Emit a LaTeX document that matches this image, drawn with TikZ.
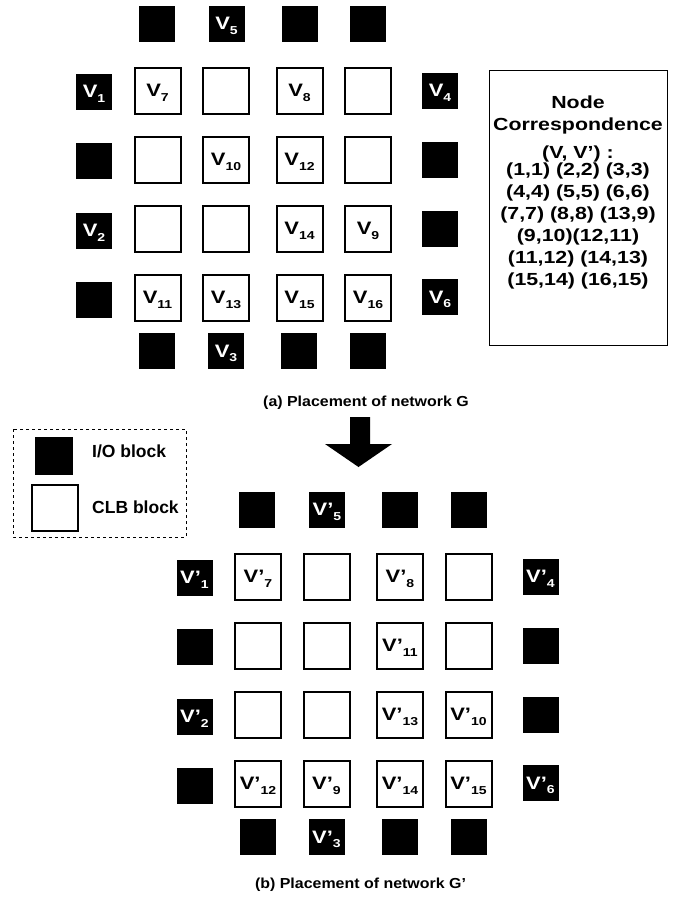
\documentclass[tikz,border=0pt]{standalone}
\usepackage{fontspec}
\setmainfont{Liberation Sans}
% horizontally widened faces used for the block labels, the table and the captions
\newfontfamily\widefont{Liberation Sans}[FakeStretch=1.22]
\newfontfamily\capfont{Liberation Sans}[FakeStretch=1.1]
% V with a lowered index that does not change the box height
\newcommand{\vsub}[2]{#1\raisebox{-4.5pt}[0pt][0pt]{\fontsize{11.5}{11.5}\selectfont #2}}
\begin{document}
\begin{tikzpicture}[x=1pt,y=-1pt,
  io/.style={fill=black,minimum size=36pt,inner sep=0pt,text=white,
    font=\widefont\fontsize{18}{18}\selectfont\bfseries},
  clb/.style={draw=black,line width=2pt,minimum size=46pt,inner sep=0pt,
    font=\widefont\fontsize{18}{18}\selectfont\bfseries},
  captxt/.style={font=\capfont\fontsize{14.5}{14.5}\selectfont\bfseries},
  legtxt/.style={font=\fontsize{17.5}{17.5}\selectfont\bfseries,anchor=west,inner sep=0pt},
  corrtxt/.style={font=\widefont\fontsize{17.5}{17.5}\selectfont\bfseries,inner sep=0pt}]
\useasboundingbox (0,0) rectangle (689,906);

% ---------- (a) placement of network G ----------
\begin{scope}
  \foreach \x/\t [count=\i] in {156.5/{},226.5/{\vsub{V}{5}},299.5/{},368/{}}
    \node[io] (a-top\i) at (\x,23.5) {\t};
  \foreach \x/\t [count=\i] in {157/{},226/{\vsub{V}{3}},299/{},368/{}}
    \node[io] (a-bot\i) at (\x,351) {\t};
  \foreach \y/\t [count=\i] in {91.5/{\vsub{V}{1}},161/{},230.5/{\vsub{V}{2}},299.5/{}}
    \node[io] (a-left\i) at (94,\y) {\t};
  \foreach \y/\t [count=\i] in {90.5/{\vsub{V}{4}},160/{},229/{},297/{\vsub{V}{6}}}
    \node[io] (a-right\i) at (440,\y) {\t};
  \foreach \x/\t [count=\i] in {157.5/{\vsub{V}{7}},226/{},299.5/{\vsub{V}{8}},368/{}}
    \node[clb] (a-r1c\i) at (\x,90.5) {\t};
  \foreach \x/\t [count=\i] in {157.5/{},226/{\vsub{V}{10}},299.5/{\vsub{V}{12}},368/{}}
    \node[clb] (a-r2c\i) at (\x,159.5) {\t};
  \foreach \x/\t [count=\i] in {157.5/{},226/{},299.5/{\vsub{V}{14}},368/{\vsub{V}{9}}}
    \node[clb] (a-r3c\i) at (\x,228.5) {\t};
  \foreach \x/\t [count=\i] in {157.5/{\vsub{V}{11}},226/{\vsub{V}{13}},299.5/{\vsub{V}{15}},368/{\vsub{V}{16}}}
    \node[clb] (a-r4c\i) at (\x,297.5) {\t};
  \node[captxt] (capa) at (366,403) {(a) Placement of network G};
\end{scope}

% ---------- node correspondence table ----------
\draw[line width=1pt] (489,70.7) rectangle (667,345);
\foreach \y/\t [count=\i] in {102/{Node},125.5/{Correspondence},153.8/{(V, V’) :},
    171.3/{(1,1) (2,2) (3,3)},193/{(4,4) (5,5) (6,6)},215/{(7,7) (8,8) (13,9)},
    237/{(9,10)(12,11)},259/{(11,12) (14,13)},281/{(15,14) (16,15)}}
  \node[corrtxt] (corr\i) at (578,\y) {\t};

% ---------- transformation arrow ----------
\fill (350,417) -- (370,417) -- (370,444) -- (392,444) -- (358.5,467)
  -- (325,444) -- (350,444) -- cycle;

% ---------- legend ----------
\draw[dashed,line width=0.8pt] (13,429) rectangle (186,537);
\node[io,minimum size=38pt] (leg-io) at (54,456) {};
\node[clb] (leg-clb) at (54.5,507.5) {};
\node[legtxt] (leg-iotxt) at (92,451) {I/O block};
\node[legtxt] (leg-clbtxt) at (92,507) {CLB block};

% ---------- (b) placement of network G' ----------
\begin{scope}[shift={(100.5,486)}]
  \foreach \x/\t [count=\i] in {156.5/{},226.5/{\vsub{V’}{5}},299.5/{},368/{}}
    \node[io] (b-top\i) at (\x,23.5) {\t};
  \foreach \x/\t [count=\i] in {157/{},226/{\vsub{V’}{3}},299/{},368/{}}
    \node[io] (b-bot\i) at (\x,351) {\t};
  \foreach \y/\t [count=\i] in {91.5/{\vsub{V’}{1}},161/{},230.5/{\vsub{V’}{2}},299.5/{}}
    \node[io] (b-left\i) at (94,\y) {\t};
  \foreach \y/\t [count=\i] in {90.5/{\vsub{V’}{4}},160/{},229/{},297/{\vsub{V’}{6}}}
    \node[io] (b-right\i) at (440,\y) {\t};
  \foreach \x/\t [count=\i] in {157.5/{\vsub{V’}{7}},226/{},299.5/{\vsub{V’}{8}},368/{}}
    \node[clb] (b-r1c\i) at (\x,90.5) {\t};
  \foreach \x/\t [count=\i] in {157.5/{},226/{},299.5/{\vsub{V’}{11}},368/{}}
    \node[clb] (b-r2c\i) at (\x,159.5) {\t};
  \foreach \x/\t [count=\i] in {157.5/{},226/{},299.5/{\vsub{V’}{13}},368/{\vsub{V’}{10}}}
    \node[clb] (b-r3c\i) at (\x,228.5) {\t};
  \foreach \x/\t [count=\i] in {157.5/{\vsub{V’}{12}},226/{\vsub{V’}{9}},299.5/{\vsub{V’}{14}},368/{\vsub{V’}{15}}}
    \node[clb] (b-r4c\i) at (\x,297.5) {\t};
\end{scope}
\node[captxt] (capb) at (360.5,885) {(b) Placement of network G’};
\end{tikzpicture}
\end{document}
